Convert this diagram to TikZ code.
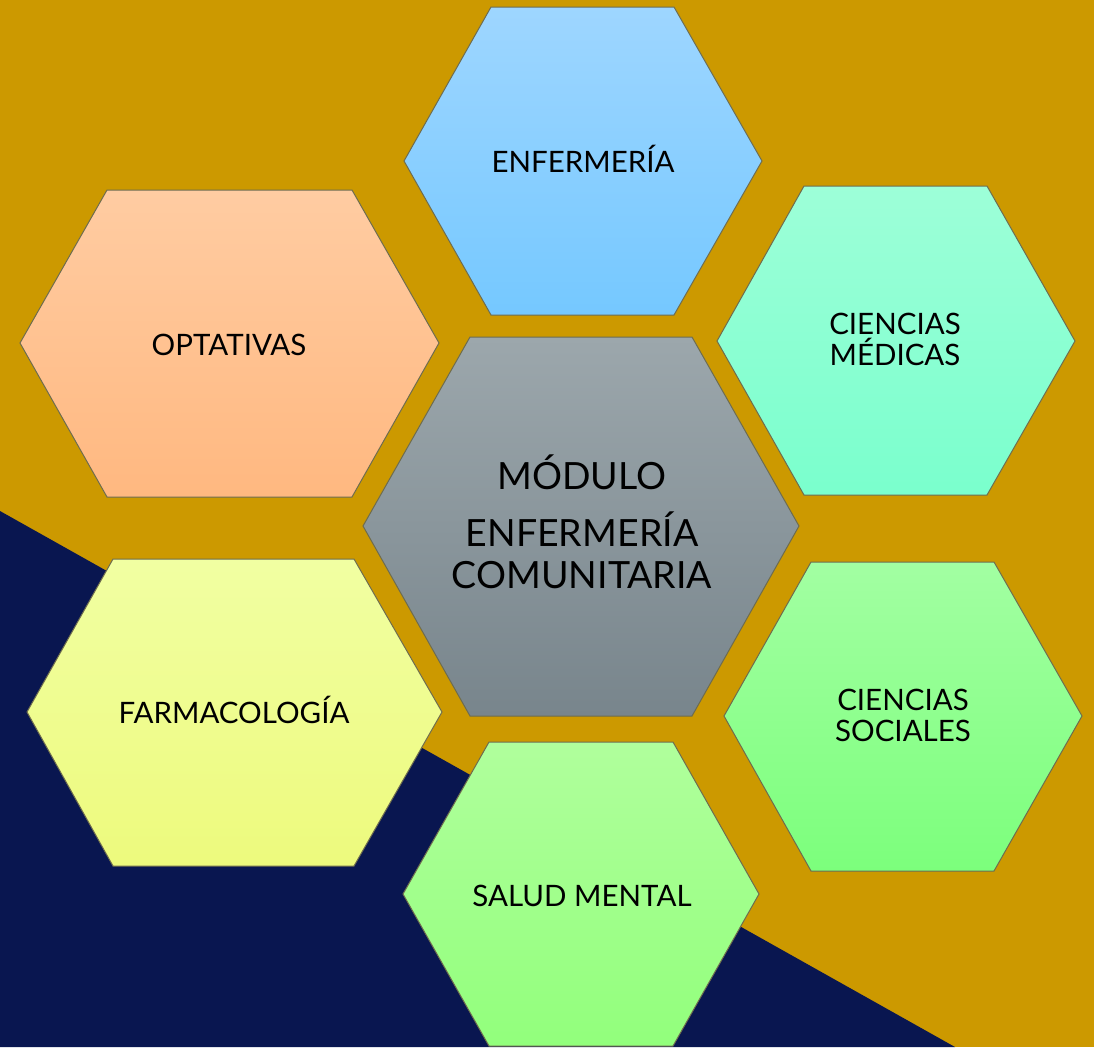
\documentclass[tikz,border=0pt]{standalone}
\usepackage{fontspec}
\setmainfont{Lato}
\usepackage{tikz}

\definecolor{oro}{RGB}{204,153,0}
\definecolor{marino}{RGB}{9,22,80}
\definecolor{borde}{RGB}{110,108,78}
\definecolor{enfA}{RGB}{158,214,255}
\definecolor{enfB}{RGB}{117,200,255}
\definecolor{medA}{RGB}{157,255,216}
\definecolor{medB}{RGB}{122,255,205}
\definecolor{optA}{RGB}{255,204,162}
\definecolor{optB}{RGB}{255,184,128}
\definecolor{farA}{RGB}{241,255,162}
\definecolor{farB}{RGB}{237,250,125}
\definecolor{socA}{RGB}{162,255,162}
\definecolor{socB}{RGB}{124,255,124}
\definecolor{salA}{RGB}{176,255,156}
\definecolor{salB}{RGB}{146,255,124}
\definecolor{modA}{RGB}{156,167,172}
\definecolor{modB}{RGB}{120,133,140}

\tikzset{
  celda/.style={draw=borde, line width=1pt},
  rotulo/.style={align=center, anchor=base, inner sep=0pt, text=black,
    font=\fontsize{29.5}{31}\selectfont},
}

\begin{document}
\begin{tikzpicture}[x=1pt,y=1pt]
\useasboundingbox (0,0) rectangle (1094,-1047);
\clip (0,0) rectangle (1094,-1047);
\fill[oro] (0,0) rectangle (1094,-1047);
\fill[marino] (0,-511) -- (955,-1047) -- (0,-1047) -- cycle; %dark corner

\draw[celda, top color=enfA, bottom color=enfB] (404,-161) -- (491,-7) -- (674,-7) -- (762,-161) -- (674,-315) -- (491,-315) -- cycle;
\draw[celda, top color=optA, bottom color=optB] (20,-343) -- (107,-190) -- (352,-190) -- (439,-343) -- (352,-497) -- (107,-497) -- cycle;
\draw[celda, top color=medA, bottom color=medB] (717,-341) -- (804,-186) -- (987,-186) -- (1075,-341) -- (987,-495) -- (804,-495) -- cycle;
\draw[celda, top color=modA, bottom color=modB] (363,-526) -- (470,-337) -- (692,-337) -- (799,-526) -- (692,-716) -- (470,-716) -- cycle;
\draw[celda, top color=farA, bottom color=farB] (27,-712) -- (113,-559) -- (354,-559) -- (442,-712) -- (354,-866) -- (113,-866) -- cycle;
\draw[celda, top color=socA, bottom color=socB] (724,-716) -- (811,-562) -- (994,-562) -- (1082,-716) -- (994,-871) -- (811,-871) -- cycle;
\draw[celda, top color=salA, bottom color=salB] (403,-894) -- (489,-742) -- (673,-742) -- (759,-894) -- (673,-1046) -- (489,-1046) -- cycle;

% multi-line labels sit on their last baseline
\node[rotulo] (enf) at (583,-172) {ENFERMERÍA};
\node[rotulo] (opt) at (229,-355) {OPTATIVAS};
\node[rotulo] (med) at (895,-365) {CIENCIAS\\MÉDICAS};
\node[rotulo, font=\fontsize{37.5}{42}\selectfont] (mod) at (582,-588) {MÓDULO\\[15pt]ENFERMERÍA\\COMUNITARIA};
\node[rotulo] (far) at (234,-723) {FARMACOLOGÍA};
\node[rotulo] (soc) at (903,-741) {CIENCIAS\\SOCIALES};
\node[rotulo] (sal) at (582,-906) {SALUD MENTAL};
\end{tikzpicture}
\end{document}
